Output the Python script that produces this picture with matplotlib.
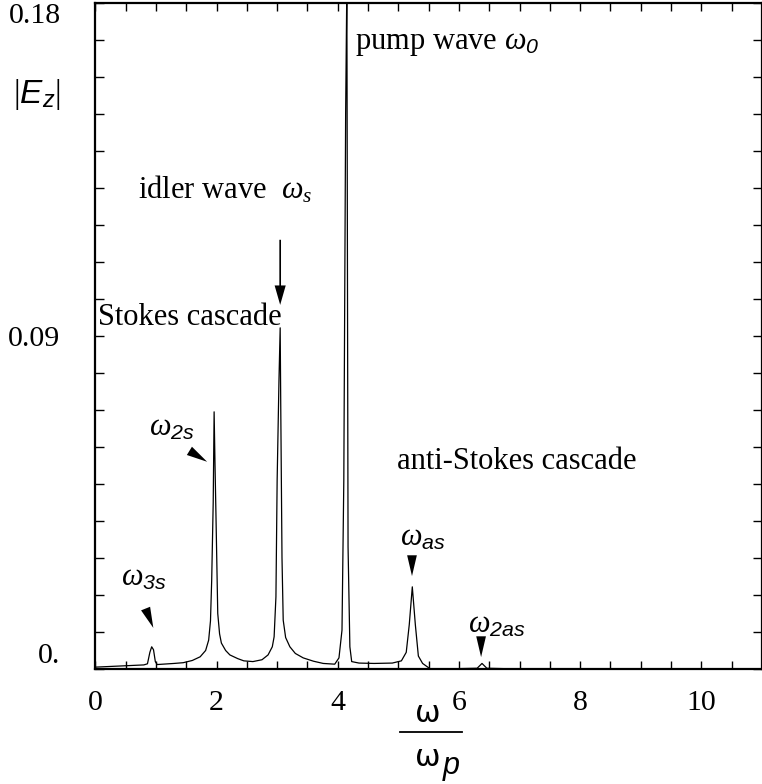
import numpy as np
import matplotlib
matplotlib.use('Agg')
import matplotlib.pyplot as plt
from matplotlib.lines import Line2D
from matplotlib.ticker import MultipleLocator

# spectrum |Ez| vs omega/omega_p
freq = [0.00, 0.40, 0.80, 0.86, 0.90, 0.93, 0.96, 0.99, 1.02, 1.30, 1.45, 1.60,
        1.73, 1.82, 1.87, 1.90, 1.92, 1.945, 1.96, 1.975, 1.99, 2.02, 2.05, 2.08,
        2.15, 2.22, 2.35, 2.45, 2.60, 2.75, 2.85, 2.92, 2.95, 2.98, 3.00, 3.03,
        3.05, 3.06, 3.08, 3.10, 3.14, 3.21, 3.30, 3.43, 3.60, 3.76, 3.95, 4.02,
        4.07, 4.10, 4.13, 4.15, 4.17, 4.20, 4.23, 4.35, 4.60, 4.90, 5.05, 5.13,
        5.18, 5.23, 5.28, 5.33, 5.40, 5.52, 6.00, 6.30, 6.38, 6.46, 7.00, 11.0]
amp = [0.0005, 0.0008, 0.0011, 0.0014, 0.0045, 0.0060, 0.0052, 0.0020, 0.0012,
       0.0015, 0.0017, 0.0023, 0.0033, 0.0050, 0.0078, 0.0130, 0.0240, 0.0450,
       0.0695, 0.0550, 0.0420, 0.0150, 0.0095, 0.0070, 0.0050, 0.0038, 0.0028,
       0.0022, 0.0020, 0.0025, 0.0038, 0.0060, 0.0087, 0.0195, 0.0510, 0.0780,
       0.0922, 0.0700, 0.0300, 0.0132, 0.0085, 0.0060, 0.0042, 0.0030, 0.0021,
       0.0015, 0.0013, 0.0030, 0.0105, 0.0510, 0.1500, 0.1850, 0.0330, 0.0060,
       0.0020, 0.0016, 0.0015, 0.0016, 0.0022, 0.0045, 0.0120, 0.0222, 0.0120,
       0.0035, 0.0015, 0.0001, 0.0001, 0.0002, 0.0015, 0.0002, 0.0000, 0.0000]

xtick_pos = [0, 2, 4, 6, 8, 10]
xtick_labels = ['0', '2', '4', '6', '8', '10']
ytick_pos = [0, 0.09, 0.18]
ytick_labels = ['0.', '0.09', '0.18']

plt.rcParams['font.family'] = 'Liberation Serif'
plt.rcParams['mathtext.fontset'] = 'custom'
plt.rcParams['mathtext.rm'] = 'Liberation Serif'
plt.rcParams['mathtext.it'] = 'Liberation Serif:italic'
plt.rcParams['mathtext.sf'] = 'Liberation Sans:italic'

fig = plt.figure(figsize=(7.62, 7.84), dpi=100)
ax = fig.add_axes([0.1251, 0.1467, 0.8749, 0.8495])

ax.plot(freq, amp, color='k', lw=0.9)
ax.set_xlim(0, 11)
ax.set_ylim(0, 0.18)

# ticks inward on all four sides
ax.set_xticks(xtick_pos)
ax.set_xticklabels(xtick_labels)
ax.xaxis.set_minor_locator(MultipleLocator(0.5))
ax.set_yticks(ytick_pos)
ax.set_yticklabels(ytick_labels)
ax.yaxis.set_minor_locator(MultipleLocator(0.01))
ax.tick_params(axis='x', which='both', direction='in', top=True, length=6, width=1, labelsize=21.5, pad=15)
ax.tick_params(axis='y', which='both', direction='in', right=True, length=6.5, width=1, labelsize=21.5, pad=25)
yl = ax.get_yticklabels()
yl[0].set_verticalalignment('bottom')
yl[2].set_verticalalignment('top')
for s in ax.spines.values():
    s.set_linewidth(1.6)

# peak labels with arrowheads
fs = 22
head = dict(facecolor='k', edgecolor='k', width=0.01, headwidth=7, headlength=15, shrink=0, lw=0)

ax.text(0.80, 0.0246, r'$\omega_{\mathsf{3s}}$', fontsize=fs, ha='center', va='center')
ax.annotate('', xy=(0.957, 0.0111), xytext=(-6, 15), textcoords='offset points', arrowprops=head)

ax.text(1.265, 0.065, r'$\omega_{\mathsf{2s}}$', fontsize=fs, ha='center', va='center')
ax.annotate('', xy=(1.845, 0.056), xytext=(-13, 8), textcoords='offset points', arrowprops=head)

ax.text(0.70, 0.1295, r'idler wave  $\omega_s$', fontsize=fs, ha='left', va='center')
ax.annotate('', xy=(3.05, 0.0984), xytext=(3.05, 0.116),
            arrowprops=dict(facecolor='k', edgecolor='k', width=1.2, headwidth=8, headlength=14, shrink=0, lw=0))
ax.text(0.045, 0.0951, 'Stokes cascade', fontsize=fs, ha='left', va='center')

ax.text(4.28, 0.169, r'pump wave $\omega_{\mathsf{0}}$', fontsize=fs, ha='left', va='center')
ax.text(4.975, 0.0562, 'anti-Stokes cascade', fontsize=fs, ha='left', va='center')

ax.text(5.41, 0.0354, r'$\omega_{\mathsf{as}}$', fontsize=fs, ha='center', va='center')
ax.annotate('', xy=(5.225, 0.0251), xytext=(0, 14), textcoords='offset points', arrowprops=head)

ax.text(6.63, 0.0119, r'$\omega_{\mathsf{2as}}$', fontsize=fs, ha='center', va='center')
ax.annotate('', xy=(6.365, 0.0032), xytext=(0, 12), textcoords='offset points', arrowprops=head)

# y label |Ez|
fig.text(37 / 762, 1 - 95 / 784, r'$|\mathsf{E}_{\mathsf{z}}|$', fontsize=24, ha='center', va='center')

# x label as a fraction omega / omega_p
fig.text(428 / 762, 1 - 713 / 784, 'ω', fontsize=22, ha='center', va='center', family='DejaVu Sans')
fig.add_artist(Line2D([400 / 762, 462 / 762], [1 - 732 / 784] * 2, color='k', lw=1.3))
fig.text(428 / 762, 1 - 757 / 784, 'ω', fontsize=22, ha='center', va='center', family='DejaVu Sans')
fig.text(451 / 762, 1 - 766 / 784, 'p', fontsize=22, ha='center', va='center', family='Liberation Sans', style='italic')

fig.savefig('out.png', dpi=100)
